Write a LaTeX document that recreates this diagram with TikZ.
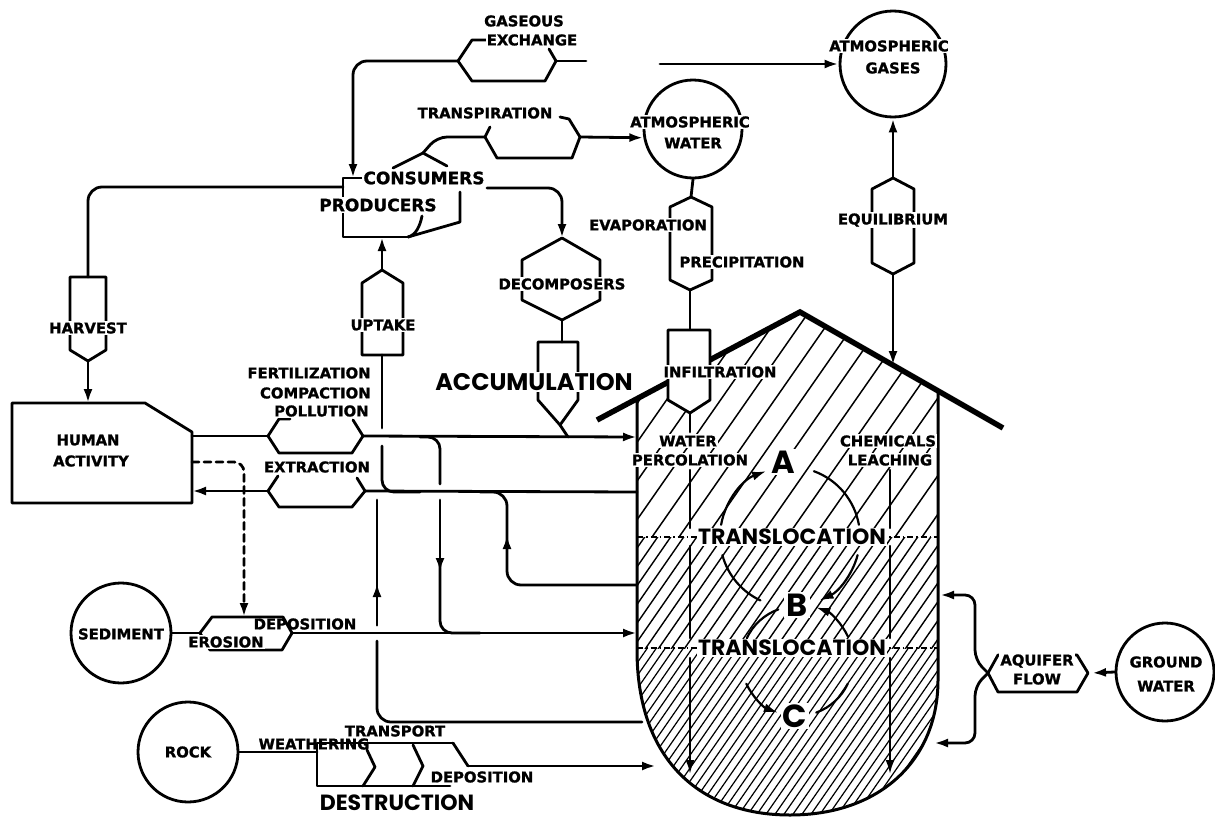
\documentclass[tikz,border=0pt]{standalone}
\usepackage{fontspec}
\setmainfont{DejaVu Sans}[BoldFeatures={FakeBold=1.3}]
\newfontfamily\bigf{Poppins}
\usetikzlibrary{arrows.meta}
\begin{document}
\begin{tikzpicture}[x=1pt,y=-1pt,
  ln/.style={line width=2.8pt,line cap=round,line join=round},
  sl/.style={line width=2.2pt,line cap=round,line join=round},
  arr/.style={-{Latex[length=14pt,width=9pt]}},
  lab/.style={font=\fontsize{14.8}{15}\selectfont\bfseries,inner sep=1.2pt,fill=white},
  labc/.style={lab,fill=none},
  blab/.style={font=\fontsize{17}{18}\selectfont\bfseries,inner sep=1.2pt,fill=white},
  hlab/.style={font=\bigf\bfseries\fontsize{24}{26}\selectfont,inner sep=1.5pt,fill=white},
  dlab/.style={font=\bigf\bfseries\fontsize{22}{24}\selectfont,inner sep=0pt},
  tlab/.style={font=\bigf\bfseries\fontsize{22}{24}\selectfont,inner sep=1.5pt,fill=white},
  abc/.style={font=\bigf\bfseries\fontsize{32}{34}\selectfont,inner sep=2pt,fill=white},
  hat/.style={line width=1.5pt},
  hz/.style={line width=1.6pt,dash pattern=on 6pt off 3pt on 1.5pt off 3pt},
  circ/.style={circle,draw,line width=2.8pt,inner sep=0pt},
]
\path[use as bounding box,fill=white] (0,0) rectangle (1215,819);

% ---------------- hatching of the soil body
\begin{scope}
 \clip (637,537) -- (637,399) -- (800,312) -- (938,391) -- (938,537) -- cycle;
 \foreach \i in {0,...,20} \draw[hat] ({420+27*\i},560) -- ++(230,-330);
\end{scope}
\begin{scope}
 \clip (637,537) rectangle (938,648);
 \foreach \i in {0,...,31} \draw[hat,line width=1.4pt] ({550+13*\i},655) -- ++(90,-130);
\end{scope}
\begin{scope}
 \clip (637,648) -- (637,650) .. controls (637,760) and (700,815) .. (790,815) .. controls (880,815) and (938,760) .. (938,680) -- (938,648) -- cycle;
 \foreach \i in {0,...,52} \draw[hat,line width=1.2pt] ({510+9*\i},820) -- ++(125,-180);
\end{scope}
% soil outline and roof
\draw[line width=3pt] (637,399) -- (637,650) .. controls (637,760) and (700,815) .. (790,815) .. controls (880,815) and (938,760) .. (938,680) -- (938,391);
\draw[line width=5.5pt,line join=miter] (597,420) -- (800,312) -- (1003,428);
\draw[hz] (637,537) -- (938,537);
\draw[hz] (637,648) -- (938,648);

% ---------------- circles
\node[circ,minimum size=106pt] (agc) at (893,64) {};
\node[circ,minimum size=98pt] (awc) at (693,129) {};
\node[circ,minimum size=100pt] (sedc) at (121,633) {};
\node[circ,minimum size=100pt] (rockc) at (188,752) {};
\node[circ,minimum size=98pt] (gwc) at (1165,672) {};

% ---------------- gaseous exchange
\coordinate (geL) at (458,61);
\coordinate (geR) at (556,61);
\draw[ln] (487,40) -- (472,40) -- (geL) -- (472,81) -- (545,81) -- (geR) -- (549,49);
\draw[ln] (geR) -- (586,61);
\coordinate (agIn) at (660,64);
\draw[ln,arr] (agIn) -- (agc.west);
\draw[ln,arr,rounded corners=14pt] (geL) -- (353,61) -- (353,178);

% ---------------- equilibrium
\coordinate (eqT) at (893,178);
\coordinate (eqB) at (893,274);
\coordinate (roofEq) at (893,365);
\draw[ln] (eqT) -- (872,189) -- (872,263) -- (eqB) -- (914,263) -- (914,189) -- cycle;
\draw[ln,arr] (eqT) -- (agc.south);
\draw[ln,arr] (eqB) -- (roofEq);

% ---------------- consumers / producers
\draw[ln] (367,178) -- (343,178) -- (343,237) -- (408,237);
\draw[ln] (408,237) .. controls (416,235) and (420,226) .. (422,216);
\draw[ln] (408,237) -- (460,222) -- (460,192);
% transpiration
\coordinate (trL) at (485,137);
\coordinate (trR) at (580,137);
\draw[ln] (393,168) -- (423,153) -- (447,166);
\draw[ln,rounded corners=10pt] (423,153) -- (437,137) -- (trL);
\draw[ln] (490,127) -- (trL) -- (497,158) -- (572,158) -- (trR) -- (569,119) -- (560,117);
\draw[ln,arr] (trR) -- (awc.190);

% ---------------- decomposers / accumulation
\coordinate (dcT) at (562,238);
\coordinate (dcB) at (562,320);
\coordinate (acT) at (562,342);
\coordinate (acB) at (560,425);
\draw[ln,arr,rounded corners=14pt] (487,188) -- (562,188) -- (dcT);
\draw[ln] (dcT) -- (522,260) -- (522,300) -- (dcB) -- (600,300) -- (600,260) -- cycle;
\draw[ln] (dcB) -- (acT);
\draw[ln] (538,342) -- (578,342) (538,342) -- (538,400) -- (acB) -- (578,400) -- (578,342);
\draw[ln] (acB) -- (568,437);

% ---------------- evaporation / precipitation / infiltration
\coordinate (epT) at (691,197);
\coordinate (epB) at (690,290);
\coordinate (inT) at (690,330);
\coordinate (inB) at (690,413);
\draw[ln] (awc.south) -- (epT);
\draw[ln] (epT) -- (670,207) -- (670,280) -- (epB) -- (712,280) -- (712,207) -- cycle;
\draw[ln] (epB) -- (inT);
\draw[ln,fill=white] (668,330) -- (710,330) -- (710,400) -- (inB) -- (668,400) -- cycle;
\draw[ln] (inB) -- (690,432);

% ---------------- harvest and human activity
\coordinate (hvT) at (88,277);
\coordinate (hvB) at (88,361);
\draw[ln,rounded corners=14pt] (343,187) -- (88,187) -- (hvT);
\draw[ln] (70,277) -- (106,277) (70,277) -- (70,350) -- (hvB) -- (106,350) -- (106,277);
\draw[ln] (12,403) -- (145,403) -- (192,432) -- (192,503) -- (12,503) -- cycle;
\draw[ln,arr] (hvB) -- (88,403);

% ---------------- uptake
\coordinate (upT) at (382,270);
\draw[ln] (362,355) -- (362,283) -- (upT) -- (403,283) -- (403,355) -- cycle;
\draw[ln,arr] (upT) -- (382,237);
\draw[ln] (382,355) -- (382,428);
\draw[ln,rounded corners=12pt] (382,446) -- (382,492) -- (420,492);

% ---------------- fertilization
\coordinate (fzL) at (268,436);
\coordinate (fzR) at (363,436);
\draw[ln] (290,419) -- (279,419) -- (fzL) -- (279,453) -- (352,453) -- (fzR) -- (353,420);
\draw[ln] (192,436) -- (fzL);
\draw[ln,arr] (fzR) -- (637,437);
\draw[ln,rounded corners=12pt] (420,437) -- (440,437) -- (440,484);
\draw[ln,arr] (440,500) -- (440,572);
\draw[ln,rounded corners=12pt] (440,565) -- (440,633) -- (480,633);

% ---------------- extraction
\coordinate (exL) at (268,491);
\coordinate (exR) at (365,491);
\draw[ln] (278,476) -- (exL) -- (279,507) -- (352,507) -- (exR) -- (357,478);
\draw[ln] (637,492) -- (exR);
\draw[ln,arr] (exL) -- (192,491);
\draw[ln,rounded corners=14pt] (637,585) -- (507,585) -- (507,492) -- (480,492);
\draw[ln,arr] (507,562) -- (507,535);

% ---------------- lower uptake line
\draw[ln,rounded corners=14pt] (642,722) -- (377,722) -- (377,641);
\draw[ln] (377,625) -- (377,500);
\draw[ln,arr] (377,625) -- (377,583);

% ---------------- sediment
\coordinate (erL) at (200,633);
\coordinate (erR) at (292,633);
\draw[ln] (sedc.east) -- (erL);
\draw[ln] (erL) -- (212,617) -- (283,617) -- (erR) -- (282,650) -- (210,650) -- cycle;
\draw[ln,arr] (erR) -- (637,633);
\draw[ln,dash pattern=on 7pt off 5pt,arr,rounded corners=10pt] (192,462) -- (244,462) -- (244,617);

% ---------------- rock
\coordinate (dsR) at (468,766);
\draw[ln] (rockc.east) -- (317,752);
\draw[ln] (453,743) -- (317,743) -- (317,786) -- (450,786);
\draw[ln] (367,750) -- (375,767) -- (363,786);
\draw[ln] (413,745) -- (423,766) -- (413,786);
\draw[ln] (453,743) -- (dsR);
\draw[ln,arr] (dsR) -- (656,766);

% ---------------- aquifer
\coordinate (aqL) at (988,673);
\coordinate (aqR) at (1088,673);
\draw[ln,arr,rounded corners=10pt] (aqL) -- (975,660) -- (975,595) -- (940,595);
\draw[ln,arr,rounded corners=10pt] (aqL) -- (975,686) -- (975,743) -- (934,743);
\draw[ln] (aqL) -- (998,655) -- (1077,655) -- (aqR) -- (1077,692) -- (998,692) -- cycle;
\draw[ln,arr] (gwc.west) -- (1092,673);

% ---------------- soil processes
\draw[sl,arr] (721.1,524.8) arc[start angle=190,end angle=250,radius=70];
\draw[sl] (813.9,471.2) arc[start angle=290,end angle=350,radius=70];
\draw[sl] (722.4,555.1) arc[start angle=165,end angle=115,radius=70];
\draw[sl,arr] (857.6,555.1) arc[start angle=15,end angle=65,radius=70];
\draw[sl] (778.3,609.4) arc[start angle=250,end angle=205,radius=56];
\draw[sl,arr] (847.8,636.3) arc[start angle=335,end angle=290,radius=56];
\draw[sl,arr] (746.3,683.7) arc[start angle=155,end angle=110,radius=56];
\draw[sl] (816.2,712.6) arc[start angle=70,end angle=25,radius=56];
\draw[sl] (690,470) -- (690,528);
\draw[sl] (690,546) -- (690,638);
\draw[sl,arr] (690,658) -- (690,774);
\draw[sl] (890,470) -- (890,528);
\draw[sl] (890,546) -- (890,638);
\draw[sl,arr] (890,658) -- (890,774);

% ---------------- labels
\node[labc] (tGas) at (524,21) {GASEOUS};
\node[lab] (tExc) at (532,40) {EXCHANGE};
\node[lab] (tAg1) at (889,46) {ATMOSPHERIC};
\node[lab] (tAg2) at (893,68) {GASES};
\node[lab] (tEq) at (893,220) {EQUILIBRIUM};
\node[lab] (tAw1) at (690,122) {ATMOSPHERIC};
\node[lab] (tAw2) at (693,143) {WATER};
\node[lab] (tTr) at (485,113) {TRANSPIRATION};
\node[blab] (tCo) at (424,178) {CONSUMERS};
\node[blab] (tPr) at (378,205) {PRODUCERS};
\node[lab] (tDe) at (562,284) {DECOMPOSERS};
\node[lab] (tEv) at (648,225) {EVAPORATION};
\node[lab] (tPc) at (742,262) {PRECIPITATION};
\node[lab] (tIn) at (720,372) {INFILTRATION};
\node[hlab] (tAc) at (534,382) {ACCUMULATION};
\node[lab] (tHv) at (88,328) {HARVEST};
\node[lab] (tUp) at (383,325) {UPTAKE};
\node[lab,anchor=east] (tFe) at (372,373) {FERTILIZATION};
\node[lab,anchor=east] (tCm) at (372,393) {COMPACTION};
\node[lab,anchor=east] (tPo) at (370,411) {POLLUTION};
\node[lab] (tEx) at (317,467) {EXTRACTION};
\node[lab] (tHu) at (88,440) {HUMAN};
\node[lab] (tAct) at (91,461) {ACTIVITY};
\node[lab] (tSe) at (121,634) {SEDIMENT};
\node[labc] (tDp1) at (305,624) {DEPOSITION};
\node[lab] (tEr) at (226,642) {EROSION};
\node[lab] (tRo) at (188,752) {ROCK};
\node[labc] (tWe) at (314,744) {WEATHERING};
\node[labc] (tTp) at (395,731) {TRANSPORT};
\node[labc] (tDp2) at (482,777) {DEPOSITION};
\node[dlab] (tDs) at (397,803) {DESTRUCTION};
\node[lab] (tAq) at (1037,661) {AQUIFER};
\node[labc] (tFl) at (1037,679) {FLOW};
\node[lab] (tGw1) at (1166,662) {GROUND};
\node[lab] (tGw2) at (1166,686) {WATER};
\node[lab] (tWp1) at (688,441) {WATER};
\node[lab] (tWp2) at (690,460) {PERCOLATION};
\node[lab] (tCh1) at (888,441) {CHEMICALS};
\node[lab] (tCh2) at (890,460) {LEACHING};
\node[tlab] (tTl1) at (792,537) {TRANSLOCATION};
\node[tlab] (tTl2) at (792,648) {TRANSLOCATION};
\node[abc] (tA) at (783,462) {A};
\node[abc] (tB) at (797,605) {B};
\node[abc] (tC) at (795,716) {C};
\end{tikzpicture}
\end{document}
